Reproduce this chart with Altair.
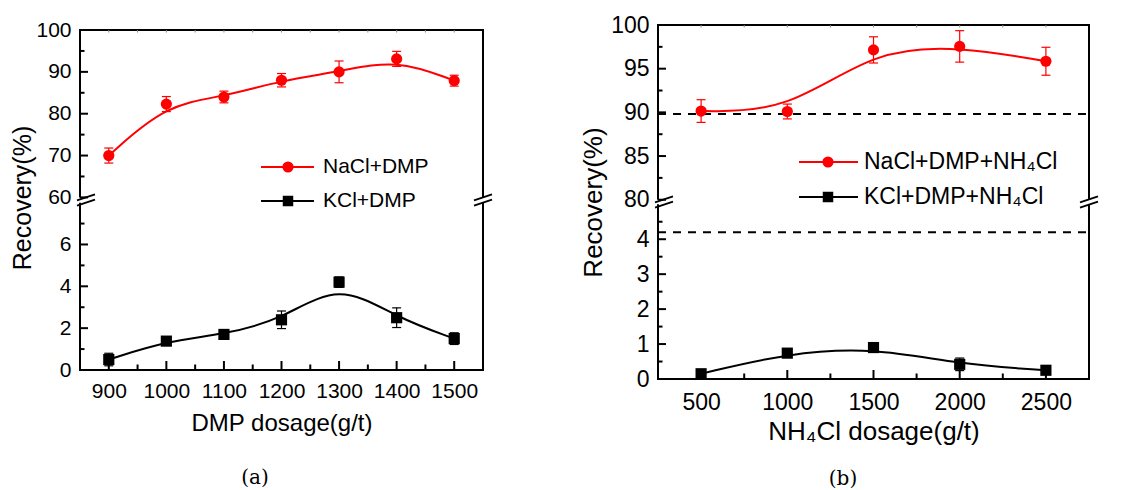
import altair as alt
import pandas as pd

FONT = "Liberation Sans"
SERIF = "DejaVu Serif"
RED = "#ff0000"
BLACK = "#000000"

# ---------------- data: panel (a) ----------------
a_x = [900, 1000, 1100, 1200, 1300, 1400, 1500]
a_nacl = [70.0, 82.3, 84.0, 88.0, 90.0, 93.1, 87.9]
a_nacl_err = [1.8, 1.8, 1.4, 1.6, 2.6, 1.8, 1.3]
a_kcl = [0.5, 1.38, 1.7, 2.4, 4.2, 2.5, 1.5]
a_kcl_err = [0.3, 0.15, 0.2, 0.42, 0.25, 0.47, 0.28]
a_series = ["NaCl+DMP", "KCl+DMP"]
a_xticks = [900, 1000, 1100, 1200, 1300, 1400, 1500]
a_xminor = [950, 1050, 1150, 1250, 1350, 1450]
a_ylow_major = [0, 2, 4, 6]
a_ylow_minor = [1, 3, 5, 7]
a_yup_major = [60, 70, 80, 90, 100]
a_yup_minor = [65, 75, 85, 95]

# ---------------- data: panel (b) ----------------
b_x = [500, 1000, 1500, 2000, 2500]
b_nacl = [90.15, 90.1, 97.15, 97.55, 95.85]
b_nacl_err = [1.3, 0.85, 1.5, 1.8, 1.6]
b_kcl = [0.15, 0.74, 0.9, 0.42, 0.25]
b_kcl_err = [0.1, 0.1, 0.08, 0.18, 0.1]
b_series = ["NaCl+DMP+NH\u2084Cl", "KCl+DMP+NH\u2084Cl"]
b_refs = [89.8, 4.2]
b_xticks = [500, 1000, 1500, 2000, 2500]
b_xminor = [750, 1250, 1750, 2250]
b_ylow_major = [0, 1, 2, 3, 4]
b_ylow_minor = [0.5, 1.5, 2.5, 3.5, 4.5]
b_yup_major = [80, 85, 90, 95, 100]
b_yup_minor = [82.5, 87.5, 92.5, 97.5]

cfg_a = dict(
    x=a_x, nacl=a_nacl, nacl_err=a_nacl_err, kcl=a_kcl, kcl_err=a_kcl_err,
    series=a_series, xticks=a_xticks, xminor=a_xminor,
    ylow_major=a_ylow_major, ylow_minor=a_ylow_minor,
    yup_major=a_yup_major, yup_minor=a_yup_minor, refs=[],
    lower_top=8, gap=0.25, upper_lo=60, ratio=0.2, upper_top=100,
    ytop=16.49, xdomain=[850, 1550], width=403, height=345,
    fs=21, tfs=24, ytfs=25, xtitle="DMP dosage(g/t)", caption="(a)",
    xlabpad=10, xtitlepad=10, ytitlepad=0,
    leg_rows=[142, 176], leg_x=[181, 234, 208, 243], cap_xy=[175, 453],
    brk_dx=6,
)
cfg_b = dict(
    x=b_x, nacl=b_nacl, nacl_err=b_nacl_err, kcl=b_kcl, kcl_err=b_kcl_err,
    series=b_series, xticks=b_xticks, xminor=b_xminor,
    ylow_major=b_ylow_major, ylow_minor=b_ylow_minor,
    yup_major=b_yup_major, yup_minor=b_yup_minor, refs=b_refs,
    lower_top=5, gap=0.13, upper_lo=80, ratio=0.25, upper_top=100,
    ytop=10.13, xdomain=[250, 2750], width=431, height=354,
    fs=23, tfs=26, ytfs=26, xtitle="NH\u2084Cl dosage(g/t)", caption="(b)",
    xlabpad=12, xtitlepad=4, ytitlepad=4,
    leg_rows=[137, 172], leg_x=[141, 200, 170, 206], cap_xy=[185, 454],
    brk_dx=6,
)


def tpos(v, c):
    if v <= c["lower_top"]:
        return v
    return c["lower_top"] + c["gap"] + (v - c["upper_lo"]) * c["ratio"]


def texpr(e, c):
    lt, g, lo, r = c["lower_top"], c["gap"], c["upper_lo"], c["ratio"]
    return f"(({e}) <= {lt} ? ({e}) : {lt + g} + (({e}) - {lo}) * {r})"


def one():
    return pd.DataFrame({"k": [0]})


def panel(c):
    W, H = c["width"], c["height"]
    rows = []
    for s, vals, errs in [(c["series"][0], c["nacl"], c["nacl_err"]),
                          (c["series"][1], c["kcl"], c["kcl_err"])]:
        for x, v, e in zip(c["x"], vals, errs):
            rows.append({"x": x, "v": v, "err": e, "series": s})
    df = pd.DataFrame(rows)

    xs = alt.Scale(domain=c["xdomain"], nice=False, zero=False)
    ys = alt.Scale(domain=[0, c["ytop"]], nice=False, zero=False)
    lt = c["lower_top"]
    brk = lt + c["gap"]
    ytick_pos = [tpos(v, c) for v in c["ylow_major"]] + [tpos(v, c) for v in c["yup_major"]]
    label_expr = (f"datum.value < {lt + c['gap'] / 2} ? datum.label : "
                  f"format({c['upper_lo']} + (datum.value - {brk}) / {c['ratio']}, '.0f')")

    XA = alt.Axis(title=c["xtitle"], values=c["xticks"], format="d", domain=False, ticks=False,
                  tickSize=0, grid=False, labelFont=FONT, labelFontSize=c["fs"], labelColor=BLACK,
                  labelPadding=c["xlabpad"], labelFlush=False, labelOverlap=False,
                  titleFont=FONT, titleFontSize=c["tfs"], titleFontWeight="normal",
                  titleColor=BLACK, titlePadding=c["xtitlepad"])
    YA = alt.Axis(title="Recovery(%)", values=ytick_pos, labelExpr=label_expr, domain=False,
                  ticks=False, tickSize=0, grid=False, labelFont=FONT, labelFontSize=c["fs"],
                  labelColor=BLACK, labelPadding=9, labelFlush=False, labelOverlap=False,
                  titleFont=FONT, titleFontSize=c["ytfs"], titleFontWeight="normal",
                  titleColor=BLACK, titlePadding=c["ytitlepad"])

    def X(f):
        return alt.X(f, scale=xs, axis=XA)

    def Y(f):
        return alt.Y(f, scale=ys, axis=YA)

    def YD(v):
        return alt.YDatum(v, scale=ys, axis=YA)

    color = alt.Color("series:N", scale=alt.Scale(domain=c["series"], range=[RED, BLACK]),
                      legend=None)
    ecolor = alt.Color("series:N", scale=alt.Scale(domain=c["series"], range=["#ff2a2a", BLACK]),
                       legend=None)
    base = alt.Chart(df).transform_calculate(
        yt=texpr("datum.v", c),
        lo=texpr("datum.v - datum.err", c),
        hi=texpr("datum.v + datum.err", c),
    )

    layers = []
    # curves
    layers.append(base.mark_line(interpolate="basis", strokeWidth=2).encode(
        x=X("x:Q"), y=Y("yt:Q"), color=color, detail="series:N"))
    # reference dashed lines
    for r in c["refs"]:
        layers.append(alt.Chart(pd.DataFrame({"r": [tpos(r, c)]})).mark_rule(
            strokeDash=[8, 7], strokeWidth=2, color=BLACK).encode(
            y=Y("r:Q"), x=alt.value(0), x2=alt.value(W)))
    # points
    layers.append(base.mark_point(filled=True, opacity=1, size=125).encode(
        x=X("x:Q"), y=Y("yt:Q"), color=color,
        shape=alt.Shape("series:N", scale=alt.Scale(domain=c["series"], range=["circle", "square"]),
                        legend=None)))
    # error bars
    layers.append(base.mark_rule(strokeWidth=1.2).encode(
        x=X("x:Q"), y=Y("lo:Q"), y2="hi:Q", color=ecolor))
    for fld in ["lo", "hi"]:
        layers.append(base.mark_rule(strokeWidth=1.2, xOffset=-4.5, x2Offset=4.5).encode(
            x=X("x:Q"), x2="x:Q", y=Y(f"{fld}:Q"), color=ecolor))

    # frame (broken axes)
    top_t = tpos(c["upper_top"], c)
    segs = [(0, 0, lt), (0, brk, top_t), (W, 0, lt), (W, brk, top_t)]
    for xp, y1, y2 in segs:
        layers.append(alt.Chart(one()).mark_rule(strokeWidth=2, color=BLACK).encode(
            x=alt.value(xp), y=YD(y1), y2=alt.datum(y2)))
    for yv in [0, top_t]:
        layers.append(alt.Chart(one()).mark_rule(strokeWidth=2, color=BLACK).encode(
            x=alt.value(-1), x2=alt.value(W + 1), y=YD(yv)))

    # ticks (pointing inward)
    ymaj = [tpos(v, c) for v in c["ylow_major"] + c["yup_major"]]
    ymin = [tpos(v, c) for v in c["ylow_minor"] + c["yup_minor"]]
    for vals, ln in [(ymaj, 8), (ymin, 4.5)]:
        layers.append(alt.Chart(pd.DataFrame({"t": vals})).mark_rule(strokeWidth=2, color=BLACK).encode(
            y=Y("t:Q"), x=alt.value(0), x2=alt.value(ln)))
    for vals, ln in [(c["xticks"], 9), (c["xminor"], 5.5)]:
        layers.append(alt.Chart(pd.DataFrame({"t": vals})).mark_rule(strokeWidth=2, color=BLACK).encode(
            x=X("t:Q"), y=alt.value(H), y2=alt.value(H - ln)))
    layers.append(alt.Chart(pd.DataFrame({"t": c["xticks"] + c["xminor"]})).mark_rule(
        strokeWidth=1, color="#888888", y2Offset=2.5).encode(
        x=X("t:Q"), y=YD(top_t), y2=alt.datum(top_t)))

    # break marks
    gc = lt + c["gap"] / 2
    for xc in [c["brk_dx"], W]:
        for s in [-2.6, 2.6]:
            layers.append(alt.Chart(one()).mark_rule(
                strokeWidth=1.8, color=BLACK, yOffset=s + 3, y2Offset=s - 3).encode(
                x=alt.value(xc - 9), x2=alt.value(xc + 9),
                y=YD(gc), y2=alt.datum(gc)))

    # legend
    lx0, lx1, lxm, ltx = c["leg_x"]
    for i, (name, col, shp, sz) in enumerate([(c["series"][0], RED, "circle", 125),
                                               (c["series"][1], BLACK, "square", 110)]):
        ry = c["leg_rows"][i]
        ldf = pd.DataFrame({"name": [name]})
        layers.append(alt.Chart(ldf).mark_rule(strokeWidth=2, color=col).encode(
            x=alt.value(lx0), x2=alt.value(lx1), y=alt.value(ry)))
        layers.append(alt.Chart(ldf).mark_point(filled=True, opacity=1, shape=shp, size=sz,
                                                color=col).encode(
            x=alt.value(lxm), y=alt.value(ry)))
        layers.append(alt.Chart(ldf).mark_text(align="left", baseline="middle", font=FONT,
                                               fontSize=c["fs"], color=BLACK).encode(
            x=alt.value(ltx), y=alt.value(ry), text="name:N"))

    # caption
    layers.append(alt.Chart(pd.DataFrame({"cap": [c["caption"]]})).mark_text(
        align="center", baseline="middle", font=SERIF, fontSize=20, color=BLACK).encode(
        x=alt.value(c["cap_xy"][0]), y=alt.value(c["cap_xy"][1]), text="cap:N"))

    return alt.layer(*layers).properties(width=W, height=H)


chart = alt.hconcat(panel(cfg_a), panel(cfg_b), spacing=175, bounds="flush").configure_view(
    stroke="transparent").properties(padding={"left": 2, "top": 5, "right": 5, "bottom": 5})

chart.save("out.html", embed_options={"renderer": "svg", "actions": False})
